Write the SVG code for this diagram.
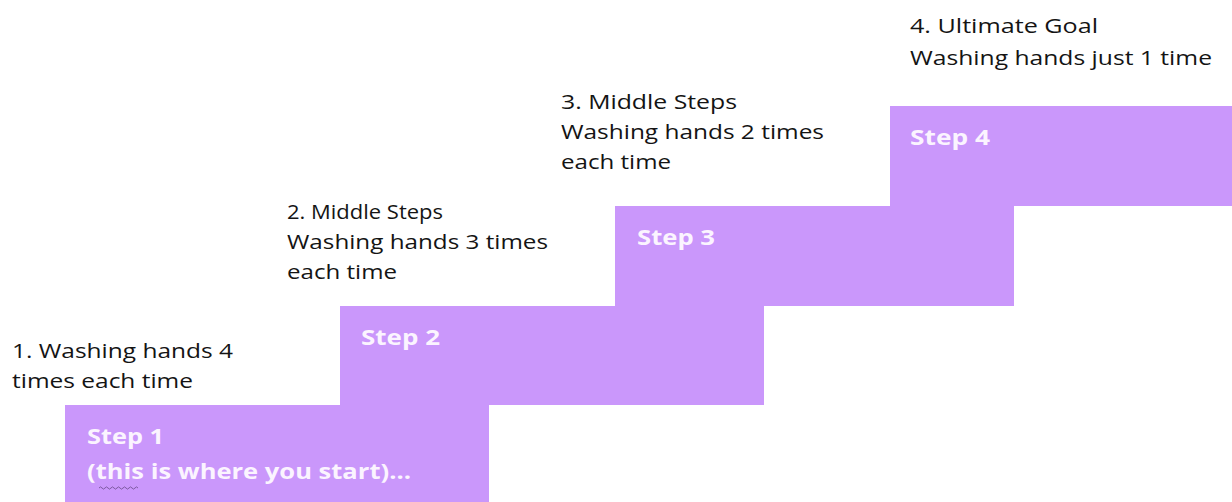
<svg xmlns="http://www.w3.org/2000/svg" width="1232" height="502" viewBox="0 0 1232 502">
<style>
.step{fill:#ca97fb;}
.lbl{font-family:"Open Sans","Liberation Sans",sans-serif;font-size:20px;fill:#141414;}
.st{font-family:"Open Sans","Liberation Sans",sans-serif;font-size:21px;font-weight:bold;fill:#fbf4ff;}
</style>
<rect width="1232" height="502" fill="#fff"/>
<g id="step1">
<rect class="step" x="65" y="405" width="424" height="97"/>
<text class="st" x="87" y="444" textLength="77" lengthAdjust="spacingAndGlyphs">Step 1</text>
<text class="st" x="87" y="479" textLength="324" lengthAdjust="spacingAndGlyphs">(this is where you start)...</text>
<path d="M99 488 q1.5 -2.2 3 0 t3 0 t3 0 t3 0 t3 0 t3 0 t3 0 t3 0 t3 0 t3 0 t3 0 t3 0 t3 0" fill="none" stroke="#6a4a8a" stroke-width="0.8"/>
</g>
<g id="label1">
<text class="lbl" x="12" y="358" textLength="221" lengthAdjust="spacingAndGlyphs">1. Washing hands 4</text>
<text class="lbl" x="12" y="388" textLength="181" lengthAdjust="spacingAndGlyphs">times each time</text>
</g>
<g id="step2">
<rect class="step" x="340" y="306" width="424" height="99"/>
<text class="st" x="361" y="345" textLength="79" lengthAdjust="spacingAndGlyphs">Step 2</text>
</g>
<g id="label2">
<text class="lbl" x="287" y="219" textLength="156" lengthAdjust="spacingAndGlyphs">2. Middle Steps</text>
<text class="lbl" x="287" y="249" textLength="261" lengthAdjust="spacingAndGlyphs">Washing hands 3 times</text>
<text class="lbl" x="287" y="279" textLength="110" lengthAdjust="spacingAndGlyphs">each time</text>
</g>
<g id="step3">
<rect class="step" x="615" y="206" width="399" height="100"/>
<text class="st" x="637" y="245" textLength="78" lengthAdjust="spacingAndGlyphs">Step 3</text>
</g>
<g id="label3">
<text class="lbl" x="561" y="109" textLength="176" lengthAdjust="spacingAndGlyphs">3. Middle Steps</text>
<text class="lbl" x="561" y="139" textLength="263" lengthAdjust="spacingAndGlyphs">Washing hands 2 times</text>
<text class="lbl" x="561" y="169" textLength="110" lengthAdjust="spacingAndGlyphs">each time</text>
</g>
<g id="step4">
<rect class="step" x="890" y="106" width="342" height="100"/>
<text class="st" x="910" y="145" textLength="80" lengthAdjust="spacingAndGlyphs">Step 4</text>
</g>
<g id="label4">
<text class="lbl" x="910" y="33" textLength="188" lengthAdjust="spacingAndGlyphs">4. Ultimate Goal</text>
<text class="lbl" x="910" y="65" textLength="302" lengthAdjust="spacingAndGlyphs">Washing hands just 1 time</text>
</g>
<g id="connectors"></g>
</svg>
